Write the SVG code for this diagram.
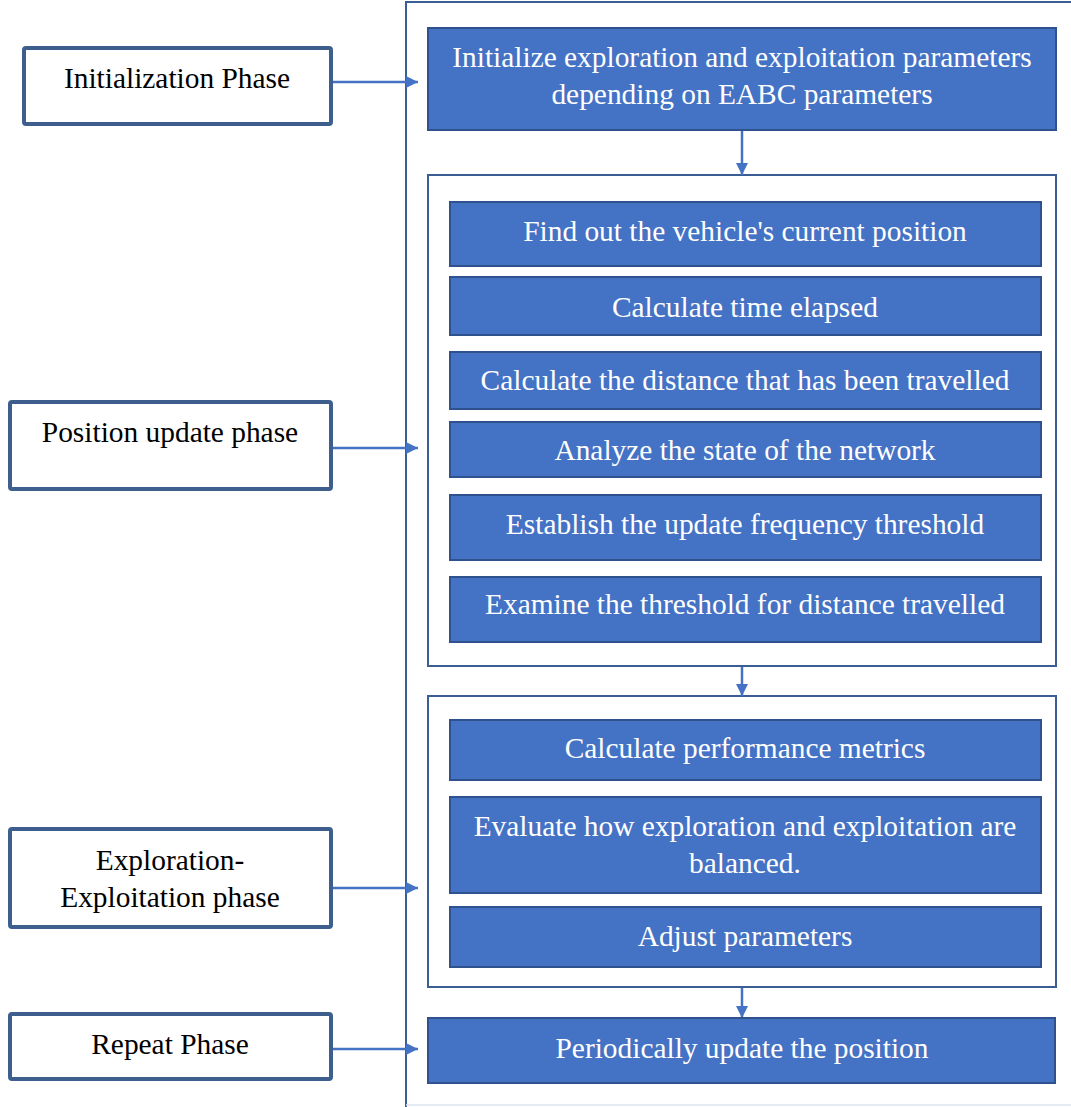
<svg xmlns="http://www.w3.org/2000/svg" width="1071" height="1107" viewBox="0 0 1071 1107">
<style>
text{font-family:"Liberation Serif","Times New Roman",serif;font-size:29.4px;text-anchor:middle}
.phase{fill:#fff;stroke:#3E5F8E;stroke-width:4}
.phase-t{fill:#000}
.step{fill:#4472C4;stroke:#2F528F;stroke-width:2}
.step-t{fill:#fff}
.cont{fill:#fff;stroke:#3A5E93;stroke-width:2}
.conn{stroke:#4472C4;stroke-width:2.5;fill:none}
</style>
<defs>
<marker id="ah" viewBox="0 0 10 10" refX="10" refY="5" markerWidth="12" markerHeight="12" markerUnits="userSpaceOnUse" orient="auto">
<path d="M0,0 L10,5 L0,10 z" fill="#4472C4"/>
</marker>
</defs>
<rect width="1071" height="1107" fill="#fff"/>
<g id="frame">
<line x1="1071" y1="2" x2="406" y2="2" stroke="#3A5E93" stroke-width="2"/>
<line x1="406" y1="1" x2="406" y2="1107" stroke="#3A5E93" stroke-width="2"/>
<line x1="406" y1="1105" x2="1071" y2="1105" stroke="#DDE4EE" stroke-width="1.5"/>
</g>
<g id="containers">
<rect id="container-position" class="cont" x="428" y="175" width="628" height="491"/>
<rect id="container-explore" class="cont" x="428" y="696" width="628" height="291"/>
</g>
<g id="connectors">
<line class="conn" x1="331" y1="82" x2="418" y2="82" marker-end="url(#ah)"/>
<line class="conn" x1="331" y1="448" x2="418" y2="448" marker-end="url(#ah)"/>
<line class="conn" x1="331" y1="888" x2="418" y2="888" marker-end="url(#ah)"/>
<line class="conn" x1="331" y1="1049" x2="418" y2="1049" marker-end="url(#ah)"/>
<line class="conn" x1="742" y1="131" x2="742" y2="175" marker-end="url(#ah)"/>
<line class="conn" x1="742" y1="667" x2="742" y2="696" marker-end="url(#ah)"/>
<line class="conn" x1="742" y1="988" x2="742" y2="1018" marker-end="url(#ah)"/>
</g>
<g id="initialization-phase"><rect class="phase" x="24" y="48" width="307" height="76" rx="2"/><text class="phase-t" x="177" y="88">Initialization Phase</text></g>
<g id="position-update-phase"><rect class="phase" x="10" y="402" width="321" height="87" rx="2"/><text class="phase-t" x="170" y="442">Position update phase</text></g>
<g id="exploration-exploitation-phase"><rect class="phase" x="10" y="829" width="321" height="98" rx="2"/><text class="phase-t" x="170" y="870">Exploration-</text><text class="phase-t" x="170" y="907">Exploitation phase</text></g>
<g id="repeat-phase"><rect class="phase" x="10" y="1014" width="321" height="65" rx="2"/><text class="phase-t" x="170" y="1054">Repeat Phase</text></g>
<g id="init-params"><rect class="step" x="428" y="28" width="628" height="102"/><text class="step-t" x="742" y="67">Initialize exploration and exploitation parameters</text><text class="step-t" x="742" y="104">depending on EABC parameters</text></g>
<g id="find-position"><rect class="step" x="450" y="202" width="591" height="64"/><text class="step-t" x="745" y="241">Find out the vehicle's current position</text></g>
<g id="time-elapsed"><rect class="step" x="450" y="277" width="591" height="58"/><text class="step-t" x="745" y="317">Calculate time elapsed</text></g>
<g id="distance-travelled"><rect class="step" x="450" y="352" width="591" height="57"/><text class="step-t" x="745" y="390">Calculate the distance that has been travelled</text></g>
<g id="network-state"><rect class="step" x="450" y="422" width="591" height="55"/><text class="step-t" x="745" y="460">Analyze the state of the network</text></g>
<g id="update-frequency"><rect class="step" x="450" y="495" width="591" height="65"/><text class="step-t" x="745" y="534">Establish the update frequency threshold</text></g>
<g id="distance-threshold"><rect class="step" x="450" y="577" width="591" height="65"/><text class="step-t" x="745" y="614">Examine the threshold for distance travelled</text></g>
<g id="performance-metrics"><rect class="step" x="450" y="720" width="591" height="60"/><text class="step-t" x="745" y="758">Calculate performance metrics</text></g>
<g id="evaluate-balance"><rect class="step" x="450" y="797" width="591" height="96"/><text class="step-t" x="745" y="836">Evaluate how exploration and exploitation are</text><text class="step-t" x="745" y="873">balanced.</text></g>
<g id="adjust-parameters"><rect class="step" x="450" y="907" width="591" height="60"/><text class="step-t" x="745" y="946">Adjust parameters</text></g>
<g id="update-position"><rect class="step" x="428" y="1018" width="627" height="65"/><text class="step-t" x="742" y="1058">Periodically update the position</text></g>
</svg>
